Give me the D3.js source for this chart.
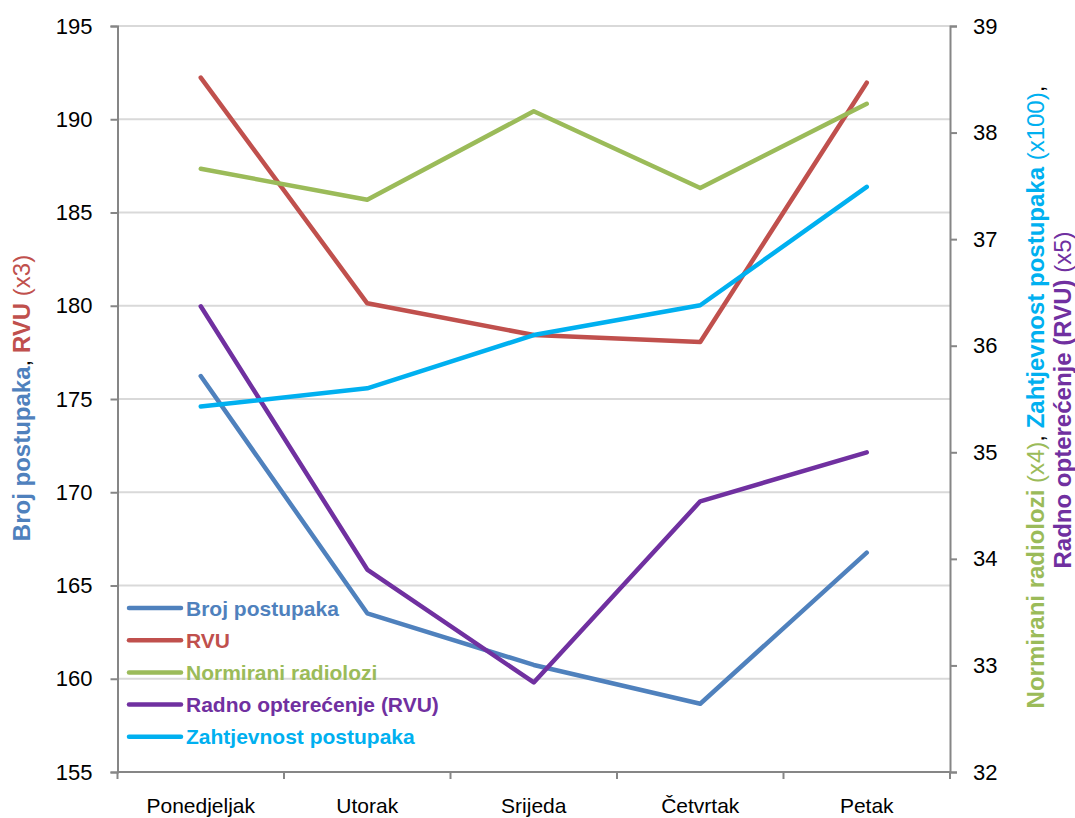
<!DOCTYPE html>
<html>
<head>
<meta charset="utf-8">
<script src="https://cdn.jsdelivr.net/npm/d3@7"></script>
<style>
  body { margin: 0; background: #fff; }
  svg { display: block; font-family: "Liberation Sans", Arial, sans-serif; }
</style>
</head>
<body>
<svg id="chart" width="1075" height="818"></svg>
<script>
const categories = ["Ponedjeljak", "Utorak", "Srijeda", "Četvrtak", "Petak"];
const leftTicks = [155, 160, 165, 170, 175, 180, 185, 190, 195];
const rightTicks = [32, 33, 34, 35, 36, 37, 38, 39];

// Left axis series
const brojPostupaka = [176.23, 163.51, 160.74, 158.66, 166.76];
const rvu = [192.23, 180.13, 178.43, 178.06, 191.96];
// Right axis series
const normiraniRadiolozi = [37.66, 37.37, 38.20, 37.48, 38.27];
const radnoOpterecenje = [36.37, 33.90, 32.84, 34.54, 35.00];
const zahtjevnostPostupaka = [35.43, 35.60, 36.10, 36.38, 37.49];

const seriesNames = ["Broj postupaka", "RVU", "Normirani radiolozi", "Radno opterećenje (RVU)", "Zahtjevnost postupaka"];
const seriesColors = ["#4f81bd", "#c0504d", "#9bbb59", "#7030a0", "#00b0f0"];

(function () {
const svg = d3.select("#chart");
const pLeft = 117.5, pRight = 950, pTop = 26, pBottom = 772;
const tickFont = "22px", catFont = "21px", legendFont = "21px", titleFont = "24px";

const x = d3.scaleBand().domain(categories).range([pLeft, pRight]);
const yL = d3.scaleLinear().domain([155, 195]).range([pBottom, pTop]);
const yR = d3.scaleLinear().domain([32, 39]).range([pBottom, pTop]);

svg.append("g").selectAll("line").data(leftTicks.filter(d => d !== 155)).join("line")
  .attr("x1", pLeft).attr("x2", pRight)
  .attr("y1", d => yL(d)).attr("y2", d => yL(d))
  .attr("stroke", "#d9d9d9").attr("stroke-width", 2);

const axisColor = "#868686";

const gL = svg.append("g").attr("transform", `translate(${pLeft},0)`)
  .call(d3.axisLeft(yL).tickValues(leftTicks).tickSize(7).tickPadding(18).tickFormat(d3.format("d")));
const gR = svg.append("g").attr("transform", `translate(${pRight},0)`)
  .call(d3.axisRight(yR).tickValues(rightTicks).tickSize(7).tickPadding(16).tickFormat(d3.format("d")));
const gB = svg.append("g").attr("transform", `translate(0,${pBottom})`)
  .call(d3.axisBottom(x).tickSize(0).tickPadding(26));

[gL, gR, gB].forEach(g => {
  g.select(".domain").attr("stroke", axisColor).attr("stroke-width", 2);
  g.selectAll(".tick line").attr("stroke", axisColor).attr("stroke-width", 2);
  g.selectAll(".tick text").attr("fill", "#000").style("font-size", g === gB ? catFont : tickFont)
    .style("font-family", "'Liberation Sans', Arial, sans-serif");
});
gB.select(".domain").attr("d", `M${pLeft},0H${pRight}`);

const bounds = categories.map(c => x(c)).concat([x(categories[categories.length - 1]) + x.bandwidth()]);
svg.append("g").selectAll("line").data(bounds).join("line")
  .attr("x1", d => d).attr("x2", d => d)
  .attr("y1", pBottom).attr("y2", pBottom + 7)
  .attr("stroke", axisColor).attr("stroke-width", 2);

const series = [
  { values: brojPostupaka, y: yL },
  { values: rvu, y: yL },
  { values: normiraniRadiolozi, y: yR },
  { values: radnoOpterecenje, y: yR },
  { values: zahtjevnostPostupaka, y: yR }
];
series.forEach((s, i) => {
  const line = d3.line()
    .x((d, j) => x(categories[j]) + x.bandwidth() / 2)
    .y(d => s.y(d));
  svg.append("path").datum(s.values)
    .attr("d", line)
    .attr("fill", "none")
    .attr("stroke", seriesColors[i])
    .attr("stroke-width", 4.5)
    .attr("stroke-linecap", "round")
    .attr("stroke-linejoin", "round");
});

const legend = svg.append("g");
seriesNames.forEach((name, i) => {
  const cy = 608 + i * 32.2;
  legend.append("line").attr("x1", 129).attr("x2", 181).attr("y1", cy).attr("y2", cy)
    .attr("stroke", seriesColors[i]).attr("stroke-width", 4.5).attr("stroke-linecap", "round");
  legend.append("text").attr("x", 186).attr("y", cy).attr("dy", "0.36em")
    .attr("fill", seriesColors[i]).style("font-size", legendFont).style("font-weight", "bold")
    .text(name);
});

const lt = svg.append("text")
  .attr("transform", "translate(22,398) rotate(-90)")
  .attr("text-anchor", "middle").attr("dy", "0.35em")
  .style("font-size", titleFont);
lt.append("tspan").attr("fill", "#4f81bd").style("font-weight", "bold").text("Broj postupaka");
lt.append("tspan").attr("fill", "#000").text(", ");
lt.append("tspan").attr("fill", "#c0504d").style("font-weight", "bold").text("RVU");
lt.append("tspan").attr("fill", "#c0504d").text(" (x3)");

const rt1 = svg.append("text")
  .attr("transform", "translate(1036,397) rotate(-90)")
  .attr("text-anchor", "middle").attr("dy", "0.35em")
  .style("font-size", titleFont);
rt1.append("tspan").attr("fill", "#9bbb59").style("font-weight", "bold").text("Normirani radiolozi");
rt1.append("tspan").attr("fill", "#9bbb59").text(" (x4)");
rt1.append("tspan").attr("fill", "#000").text(", ");
rt1.append("tspan").attr("fill", "#00b0f0").style("font-weight", "bold").text("Zahtjevnost postupaka");
rt1.append("tspan").attr("fill", "#00b0f0").text(" (x100)");
rt1.append("tspan").attr("fill", "#000").text(",");

const rt2 = svg.append("text")
  .attr("transform", "translate(1063,400) rotate(-90)")
  .attr("text-anchor", "middle").attr("dy", "0.35em")
  .style("font-size", titleFont);
rt2.append("tspan").attr("fill", "#7030a0").style("font-weight", "bold").text("Radno opterećenje (RVU)");
rt2.append("tspan").attr("fill", "#7030a0").text(" (x5)");
})();
</script>
</body>
</html>
